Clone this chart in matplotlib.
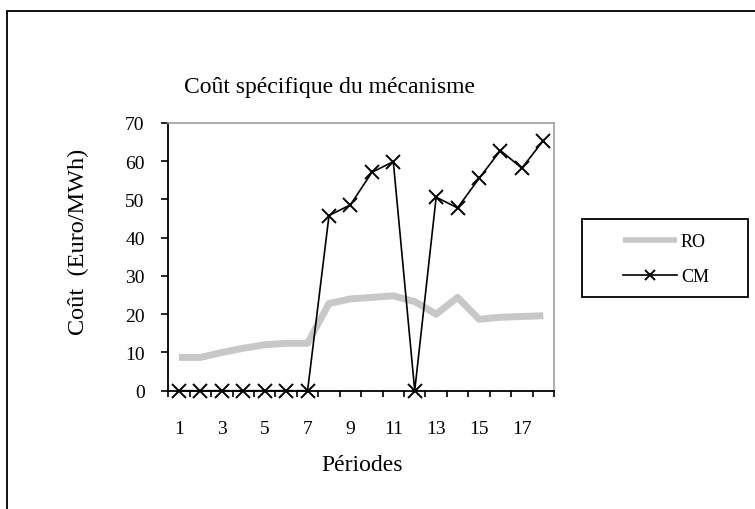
import numpy as np
import matplotlib
matplotlib.use("Agg")
import matplotlib.pyplot as plt
from matplotlib.patches import Rectangle

plt.rcParams['font.family'] = ['Liberation Serif', 'DejaVu Serif']

# Données
periodes = list(range(1, 19))
ro = [8.7, 8.7, 10.0, 11.1, 12.0, 12.4, 12.4, 22.8, 24.0, 24.4, 24.8, 23.3,
      20.0, 24.4, 18.7, 19.2, 19.4, 19.6]
cm = [0, 0, 0, 0, 0, 0, 0, 45.8, 48.6, 57.1, 59.9, 0,
      50.6, 47.8, 55.5, 62.8, 58.2, 65.4]
xtick_labels = [str(p) for p in periodes[::2]]
yticks = [0, 10, 20, 30, 40, 50, 60, 70]

W, H = 755, 510
fig = plt.figure(figsize=(W / 100, H / 100), dpi=100)
ax = fig.add_axes([168.3 / W, 1 - 391.7 / H, (554 - 168.3) / W, (391.7 - 124) / H])

ax.plot(periodes, ro, color='#c8c8c8', linewidth=5, solid_capstyle='butt', label='RO')
ax.plot(periodes, cm, color='black', linewidth=1.2, marker='x', markersize=10,
        markeredgewidth=1.4, label='CM', clip_on=False, zorder=3)

ax.set_xlim(0.5, 18.5)
ax.set_ylim(0, 70)

# graduations de l'axe x entre les catégories, étiquettes sur les catégories impaires
ax.set_xticks(np.arange(0.5, 19, 1))
ax.set_xticklabels([])
ax.set_xticks(periodes[::2], minor=True)
ax.set_xticklabels(xtick_labels, minor=True)
ax.tick_params(axis='x', which='major', direction='out', length=4, width=1.2)
ax.tick_params(axis='x', which='minor', length=0, pad=21, labelsize=14)
ax.set_yticks(yticks)
ax.tick_params(axis='y', direction='out', length=5, width=1.2, pad=12, labelsize=14)

for s in ['left', 'bottom']:
    ax.spines[s].set_linewidth(1.3)
    ax.spines[s].set_color('black')
for s in ['top', 'right']:
    ax.spines[s].set_linewidth(1.2)
    ax.spines[s].set_color('#a0a0a0')

fig.text(330 / W, 1 - 88 / H, 'Coût spécifique du mécanisme', ha='center', va='center', fontsize=17)
fig.text(78 / W, 1 - 242 / H, 'Coût  (Euro/MWh)', ha='center', va='center', rotation=90, fontsize=17.5)
fig.text(362 / W, 1 - 466 / H, 'Périodes', ha='center', va='center', fontsize=17)

# légende
leg = fig.legend(loc='center', bbox_to_anchor=(666 / W, 1 - 260 / H), frameon=False,
                 fontsize=13, handlelength=3.0, handletextpad=0.2, labelspacing=1.0,
                 markerscale=0.75)
leg.get_lines()[0].set_linewidth(4)
fig.add_artist(Rectangle((582 / W, 1 - 298 / H), (748 - 582) / W, 78 / H,
                         transform=fig.transFigure, fill=False, edgecolor='black', linewidth=1.3))

# cadre extérieur
fig.add_artist(Rectangle((7 / W, -0.1), 2, 1 - 12 / H + 0.1, transform=fig.transFigure,
                         fill=False, edgecolor='black', linewidth=1.3, clip_on=False))

fig.savefig('out.png', dpi=100)
